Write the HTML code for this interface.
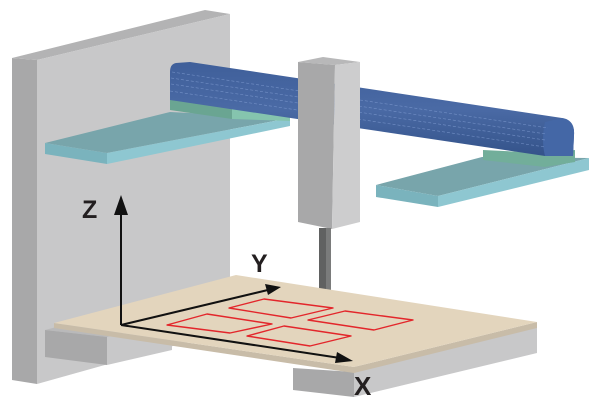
<!DOCTYPE html>
<html><head><meta charset="utf-8"><style>
html,body{margin:0;padding:0;background:#fff;}
svg{display:block;}
text{font-family:"Liberation Sans",sans-serif;font-weight:bold;fill:#231f20;}
</style></head><body>
<svg width="601" height="407" viewBox="0 0 601 407" xmlns="http://www.w3.org/2000/svg">
<defs>
<linearGradient id="beam" x1="0" y1="0" x2="0" y2="1">
<stop offset="0" stop-color="#3f5f9a"/><stop offset="0.5" stop-color="#4a6aa5"/><stop offset="1" stop-color="#34538a"/>
</linearGradient>
</defs>
<!-- wall -->
<polygon points="12,58 37,60 37,384 12,380" fill="#a8a8a9"/>
<polygon points="12,58 205,10 230,14 37,60" fill="#b3b3b4"/>
<polygon points="37,60 230,14 230,330 37,384" fill="#c8c8c9"/>
<!-- left rail -->
<polygon points="45,143 170,112 290,118 107,153" fill="#78a5ab"/>
<polygon points="45,143 107,153 107,164 45,154" fill="#7ab3bd"/>
<polygon points="107,153 290,118 290,126 107,164" fill="#8ec7d1"/>
<polygon points="170,98 232,107 232,119 170,110" fill="#6aa592"/>
<polygon points="232,107 290,116 290,121 232,119" fill="#85c4ae"/>
<!-- right rail -->
<polygon points="376,185 482,157 589,158 438,196" fill="#78a5ab"/>
<polygon points="376,185 438,196 438,207 376,197" fill="#7ab3bd"/>
<polygon points="438,196 589,158 589,170 438,207" fill="#8ec7d1"/>
<polygon points="483,150 545,153 575,150 575,162 545,167 483,160" fill="#72ae9a"/>
<!-- beam -->
<path d="M176,63 L190,62 L562,118 Q575,120 574,135 L573,156 L545,156 L170,100 L170,72 Q170,64 176,63 Z" fill="url(#beam)"/>
<path d="M545,122 L562,118 Q575,120 574,135 L573,156 L545,156 Q541,140 545,122 Z" fill="#4467a6"/>
<g stroke="#7f9bd0" stroke-width="0.6" stroke-dasharray="3,2" fill="none" opacity="0.8">
<line x1="172" y1="72" x2="548" y2="128"/><line x1="171" y1="78" x2="546" y2="134"/>
<line x1="171" y1="84" x2="545" y2="140"/><line x1="170" y1="91" x2="545" y2="147"/>
</g>
<!-- column -->
<polygon points="298,62 323,57 360,62 335,65" fill="#b8b8b9"/>
<polygon points="298,62 335,65 332,229 298,222" fill="#a8a8a9"/>
<polygon points="335,65 360,62 360,222 332,229" fill="#cdcdce"/>
<rect x="319" y="228" width="12" height="63" fill="#606161"/>
<rect x="326" y="228" width="5" height="63" fill="#7a7b7b"/>
<!-- lower blocks -->
<polygon points="45,330 107,337 172,320 110,313" fill="#b9b9ba"/>
<polygon points="45,330 107,337 107,365 45,357" fill="#a8a8a9"/>
<polygon points="107,337 172,320 172,350 107,365" fill="#c8c8c9"/>
<polygon points="293,368 354,372 354,397 293,390" fill="#a8a8a9"/>
<polygon points="354,367 537,327 537,353 354,397" fill="#c8c8c9"/>
<!-- table -->
<polygon points="54,323 354,367 537,322 537,328 354,373 54,328" fill="#c8bca8"/>
<polygon points="54,323 236,275 537,322 354,367" fill="#e3d5bd"/>
<!-- red outlines -->
<g fill="none" stroke="#e3262b" stroke-width="1.4" stroke-linejoin="round">
<polygon points="229,308 264,299 333,308 291,318"/>
<polygon points="308,320 345,311 413,320 374,330"/>
<polygon points="167,325 207,314 272,324 230,333"/>
<polygon points="247,336 284,326 351,336 310,346"/>
</g>
<!-- axes -->
<g stroke="#111" stroke-width="2" fill="none">
<line x1="121" y1="325" x2="121" y2="212"/>
<line x1="121" y1="325" x2="272" y2="289"/>
<line x1="121" y1="325" x2="340" y2="358"/>
</g>
<polygon points="121,195 114,215 128,215" fill="#111"/>
<polygon points="281,287 265,284 268,295" fill="#111"/>
<polygon points="353,361 337,352 335,363" fill="#111"/>
<text x="82" y="218" font-size="25">Z</text>
<text x="251" y="272" font-size="25">Y</text>
<text x="354" y="395" font-size="26">X</text>
</svg>
</body></html>
